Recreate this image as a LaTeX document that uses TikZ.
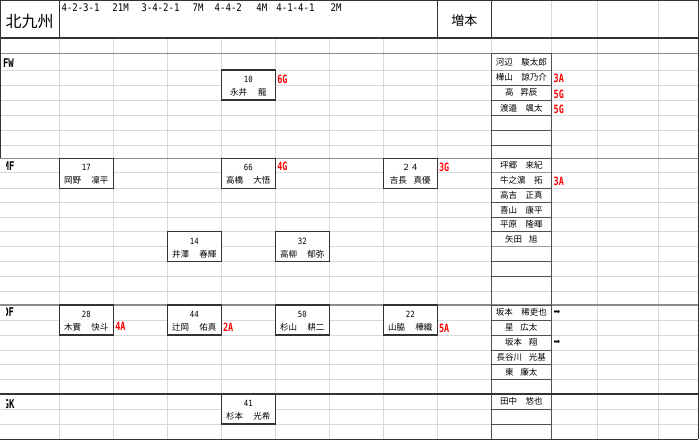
\documentclass[tikz,border=0pt]{standalone}
\usepackage{fontspec}
\setmainfont{Noto Sans CJK JP}
\newfontfamily\jpfont{Noto Sans CJK JP}
\newfontfamily\monoA[FakeStretch=0.86]{DejaVu Sans Mono}
\newfontfamily\monoB[FakeStretch=0.74]{DejaVu Sans Mono}
\newfontfamily\symfont{DejaVu Sans}
\definecolor{gridc}{HTML}{D9D9D9}
\definecolor{secc}{HTML}{8C8C8C}
\definecolor{darkc}{HTML}{333333}
\definecolor{benchc}{HTML}{505050}
\definecolor{benchl}{HTML}{9A9A9A}
\definecolor{redc}{HTML}{FF0000}
\tikzset{
  gridline/.style={draw=gridc,line width=0.8pt},
  secline/.style={draw=secc,line width=1.2pt},
  darkline/.style={draw=darkc,line width=1.2pt},
  benchline/.style={draw=benchc,line width=0.9pt},
  benchlight/.style={draw=benchl,line width=0.9pt},
  pbox/.style={draw=darkc,line width=1.5pt,fill=white,minimum width=54pt,minimum height=30pt,inner sep=0pt},
  numt/.style={inner sep=0pt,font=\monoA\fontsize{8.5}{9}\selectfont},
  namet/.style={inner sep=0pt,font=\jpfont\fontsize{8.5}{9}\selectfont},
  redlab/.style={inner sep=0pt,anchor=west,text=redc,font=\monoB\bfseries\fontsize{11.4}{12}\selectfont},
  seclab/.style={inner sep=0pt,anchor=east,font=\monoB\bfseries\fontsize{12}{13}\selectfont},
  formt/.style={inner sep=0pt,anchor=base west,font=\monoA\fontsize{10.5}{12}\selectfont},
  arrowt/.style={inner sep=0pt,anchor=west,font=\symfont\fontsize{8}{9}\selectfont},
}
\newcommand\playerbox[5]{%
  \node[pbox] (#1) at (#2,#3+15) {};
  \node[numt] (#1n) at (#2,#3+9.3) {#4};
  \node[namet] (#1m) at (#2,#3+22.2) {#5};
}
\newcommand\benchname[3]{%
  \node[namet] (#1) at (521.3,#2) {#3};
}
\begin{document}
\begin{tikzpicture}[x=1pt,y=-1pt]
\useasboundingbox (0,0) rectangle (700,441);
\fill[white] (0,0) rectangle (700,441);
% light grid
\foreach \y in {53.5,70,85,100.5,115.5,130,145,158.3,172.7,188,202.5,217.5,231.7,246.7,261.5,276.5,291.5,305,320,335,350,364.5,379.3,394,409.3,424.3}
  \draw[gridline] (0,\y) -- (698.3,\y);
\foreach \x in {59.3,113.3,167.3,221.3,275.3,329.3,383.3,437.3,491.3,551.3,597.3,658.3}
  \draw[gridline] (\x,38) -- (\x,439.3);
\foreach \x in {551.3,597.3,658.3}
  \draw[gridline] (\x,0) -- (\x,38);
% section lines
\draw[secline] (0,53.5) -- (698.3,53.5);
\draw[secline] (0,158.3) -- (698.3,158.3);
\draw[secline] (0,305) -- (698.3,305);
% bench column
\foreach \y in {53.5,85,100.5,115.5,130,145,158.3,188,202.5,217.5,231.7,261.5,276.5,305,320,335,350,364.5,379.3,409.3,424.3}
  \draw[benchline] (491.3,\y) -- (551.3,\y);
\foreach \y in {70,172.7,246.7}
  \draw[benchlight] (491.3,\y) -- (551.3,\y);
\draw[benchline] (491.3,53.5) -- (491.3,439.3);
\draw[benchline] (551.3,53.5) -- (551.3,439.3);
% dark borders
\draw[darkline] (0,0.6) -- (698.3,0.6);
\draw[darkline] (0,38) -- (698.3,38);
\draw[darkline] (0,394) -- (698.3,394);
\draw[darkline] (0,439.3) -- (698.3,439.3);
\draw[darkline] (698.3,0) -- (698.3,439.3);
\draw[darkline] (0.7,0) -- (0.7,158.3);
\draw[darkline] (59.3,0) -- (59.3,38);
\draw[darkline] (437.3,0) -- (437.3,38);
\draw[darkline] (491.3,0) -- (491.3,38);
% header
\node[inner sep=0pt,font=\jpfont\fontsize{16}{18}\selectfont] (club) at (29.5,21.2) {北九州};
\node[inner sep=0pt,font=\jpfont\fontsize{13}{15}\selectfont] (coach) at (464.3,20.8) {増本};
\node[formt] (f1) at (61.3,11.7) {4-2-3-1};
\node[formt] (m1) at (112.2,11.7) {21M};
\node[formt] (f2) at (141.2,11.7) {3-4-2-1};
\node[formt] (m2) at (192.5,11.7) {7M};
\node[formt] (f3) at (214.5,11.7) {4-4-2};
\node[formt] (m3) at (256.2,11.7) {4M};
\node[formt] (f4) at (276.2,11.7) {4-1-4-1};
\node[formt] (m4) at (330.5,11.7) {2M};
% section labels
\node[seclab] (fw) at (14,63.2) {FW};
\begin{scope}
  \clip (6.3,150) rectangle (58,430);
  \node[seclab] (mf) at (14.6,166.5) {MF};
  \node[seclab] (df) at (14.2,312.5) {DF};
  \node[seclab] (gk) at (14.6,404.2) {GK};
\end{scope}
% players
\playerbox{p10}{248.3}{70}{10}{永井\hspace{1.3em}龍}
\playerbox{p17}{86.3}{158.3}{17}{岡野\hspace{1.2em}凜平}
\playerbox{p66}{248.3}{158.3}{66}{高橋\hspace{1.2em}大悟}
\playerbox{p24}{410.3}{158.3}{\jpfont ２４}{吉長\hspace{0.8em}真優}
\playerbox{p14}{194.3}{231.7}{14}{井澤\hspace{1.2em}春輝}
\playerbox{p32}{302.3}{231.7}{32}{高柳\hspace{1.2em}郁弥}
\playerbox{p28}{86.3}{305}{28}{木實\hspace{1.2em}快斗}
\playerbox{p44}{194.3}{305}{44}{辻岡\hspace{1.2em}佑真}
\playerbox{p50}{302.3}{305}{50}{杉山\hspace{1.2em}耕二}
\playerbox{p22}{410.3}{305}{22}{山脇\hspace{1.2em}樺織}
\playerbox{p41}{248.3}{394}{41}{杉本\hspace{1.2em}光希}
% red labels on pitch
\node[redlab] (g10) at (277.2,79.2) {6G};
\node[redlab] (g66) at (277.2,166.7) {4G};
\node[redlab] (g24) at (438.8,167) {3G};
\node[redlab] (a28) at (115.2,326.8) {4A};
\node[redlab] (a44) at (222.8,326.8) {2A};
\node[redlab] (a22) at (438.8,328) {5A};
% bench
\benchname{b1}{62.2}{河辺\hspace{1em}駿太郎}
\benchname{b2}{77.5}{樺山\hspace{1em}諒乃介}
\benchname{b3}{92.75}{高\hspace{0.8em}昇辰}
\benchname{b4}{108}{渡邉\hspace{1em}颯太}
\benchname{b5}{165.5}{坪郷\hspace{1em}来紀}
\benchname{b6}{180.3}{牛之濵\hspace{1em}拓}
\benchname{b7}{195.2}{高吉\hspace{1em}正真}
\benchname{b8}{210}{喜山\hspace{1em}康平}
\benchname{b9}{224.6}{平原\hspace{1em}隆暉}
\benchname{b10}{239.2}{矢田\hspace{0.8em}旭}
\benchname{b11}{312.5}{坂本\hspace{1em}稀吏也}
\benchname{b12}{327.5}{星\hspace{0.8em}広太}
\benchname{b13}{342.5}{坂本\hspace{0.8em}翔}
\benchname{b14}{357.2}{長谷川\hspace{0.8em}光基}
\benchname{b15}{371.9}{東\hspace{0.8em}廉太}
\benchname{b16}{401.6}{田中\hspace{1em}悠也}
\node[redlab] (ab2) at (553.5,78.7) {3A};
\node[redlab] (gb3) at (553.5,94.2) {5G};
\node[redlab] (gb4) at (553.5,109.7) {5G};
\node[redlab] (ab6) at (553.5,181.7) {3A};
\node[arrowt] (r11) at (553.5,312) {➡};
\node[arrowt] (r13) at (553.5,342.3) {➡};
\end{tikzpicture}
\end{document}
